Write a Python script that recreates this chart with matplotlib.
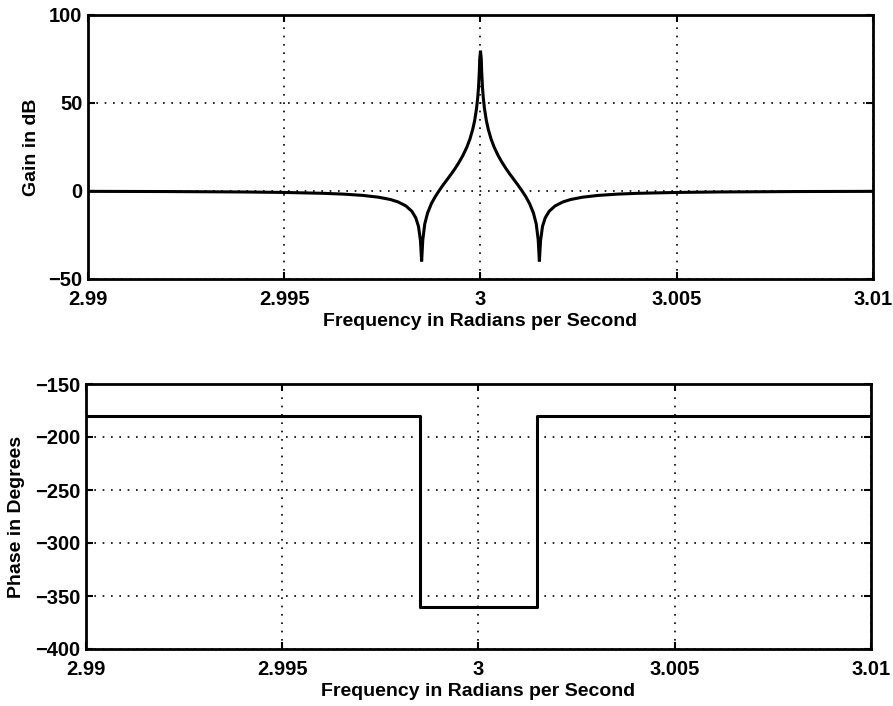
import matplotlib
matplotlib.use("Agg")
import matplotlib.pyplot as plt

# ---- data ----
gain_freq_left = [2.990, 2.992, 2.994, 2.995, 2.996, 2.9965, 2.997, 2.9974, 2.9977,
                  2.9979, 2.9981, 2.99825, 2.99835, 2.99842, 2.99847, 2.9985, 2.99853,
                  2.99858, 2.99865, 2.99875, 2.99885, 2.99894, 2.99905, 2.99915,
                  2.99925, 2.99935, 2.99945, 2.99955, 2.99965, 2.99973, 2.9998,
                  2.99985, 2.9999, 2.99993, 2.99995, 2.99997, 2.99998]
gain_db_left = [-0.20, -0.31, -0.56, -0.82, -1.32, -1.76, -2.50, -3.52, -4.81,
                -6.20, -8.48, -11.5, -15.2, -20.1, -28.2, -40.0, -27.7,
                -18.7, -12.6, -7.1, -3.1, 0.0, 3.5, 6.5,
                9.5, 12.7, 16.2, 20.1, 24.8, 29.5, 34.9,
                39.9, 47.0, 53.2, 59.1, 68.0, 75.0]
gain_peak_freq = [3.0]
gain_peak_db = [79.7]
gain_freq_right = [3.00002, 3.00003, 3.00005, 3.00007, 3.0001, 3.00015, 3.0002,
                   3.00027, 3.00035, 3.00045, 3.00055, 3.00065, 3.00075, 3.00085,
                   3.00095, 3.00106, 3.00115, 3.00125, 3.00135, 3.00142, 3.00147,
                   3.0015, 3.00153, 3.00158, 3.00165, 3.00175, 3.0019, 3.0021,
                   3.0023, 3.0026, 3.003, 3.0035, 3.004, 3.005, 3.006, 3.008, 3.010]
gain_db_right = [75.0, 68.0, 59.1, 53.2, 47.0, 39.9, 34.9,
                 29.5, 24.8, 20.1, 16.2, 12.7, 9.5, 6.5,
                 3.5, 0.0, -3.1, -7.1, -12.6, -18.7, -27.7,
                 -40.0, -28.2, -20.1, -15.2, -11.5, -8.48, -6.20,
                 -4.81, -3.52, -2.50, -1.76, -1.32, -0.82, -0.56, -0.31, -0.20]

phase_freq = [2.990, 2.9985, 3.0015, 3.010]
phase_deg = [-180, -360, -180, -180]

x_ticks = [2.99, 2.995, 3.0, 3.005, 3.01]
x_tick_labels = ["2.99", "2.995", "3", "3.005", "3.01"]
gain_ticks = [-50, 0, 50, 100]
phase_ticks = [-400, -350, -300, -250, -200, -150]

xlabel_text = "Frequency in Radians per Second"
gain_label = "Gain in dB"
phase_label = "Phase in Degrees"

# ---- drawing ----
plt.rcParams['font.family'] = ['Liberation Sans', 'DejaVu Sans']
plt.rcParams['font.weight'] = 'bold'

fig = plt.figure(figsize=(8.93, 7.06), dpi=100)
W, H = 893.0, 706.0
ax1 = fig.add_axes([88 / W, 1 - 279 / H, 785 / W, 264 / H])
ax2 = fig.add_axes([86 / W, 1 - 649 / H, 785 / W, 265 / H])

gain_freq = gain_freq_left + gain_peak_freq + gain_freq_right
gain_db = gain_db_left + gain_peak_db + gain_db_right

ax1.plot(gain_freq, gain_db, color='black', lw=2.2, solid_joinstyle='miter')
ax2.plot(phase_freq, phase_deg, color='black', lw=2.2, drawstyle='steps-post')

for ax, yt, ylim in ((ax1, gain_ticks, (-50, 100)), (ax2, phase_ticks, (-400, -150))):
    ax.set_xlim(2.99, 3.01)
    ax.set_ylim(*ylim)
    ax.set_xticks(x_ticks)
    ax.set_xticklabels(x_tick_labels)
    ax.set_yticks(yt)
    ax.grid(True, color='black', linestyle=(0, (1, 4)), linewidth=1.2)
    ax.tick_params(direction='in', top=True, right=True, length=5, width=1.5,
                   labelsize=14.5)
    ax.tick_params(axis='x', pad=8)
    ax.tick_params(axis='y', pad=4)
    for sp in ax.spines.values():
        sp.set_linewidth(2.0)
    for lab in ax.get_xticklabels() + ax.get_yticklabels():
        lab.set_fontweight('bold')

ax1.set_xlabel(xlabel_text, fontsize=14, fontweight='bold', va='center')
ax1.xaxis.set_label_coords(0.5, -(321 - 279) / 264)
ax1.set_ylabel(gain_label, fontsize=14, fontweight='bold', va='center')
ax1.yaxis.set_label_coords((32 - 88) / 785, 0.5)

ax2.set_xlabel(xlabel_text, fontsize=14, fontweight='bold', va='center')
ax2.xaxis.set_label_coords(0.5, -(692 - 649) / 265)
ax2.set_ylabel(phase_label, fontsize=14, fontweight='bold', va='center')
ax2.yaxis.set_label_coords((17 - 86) / 785, 0.5)

fig.savefig("out.png", dpi=100)
